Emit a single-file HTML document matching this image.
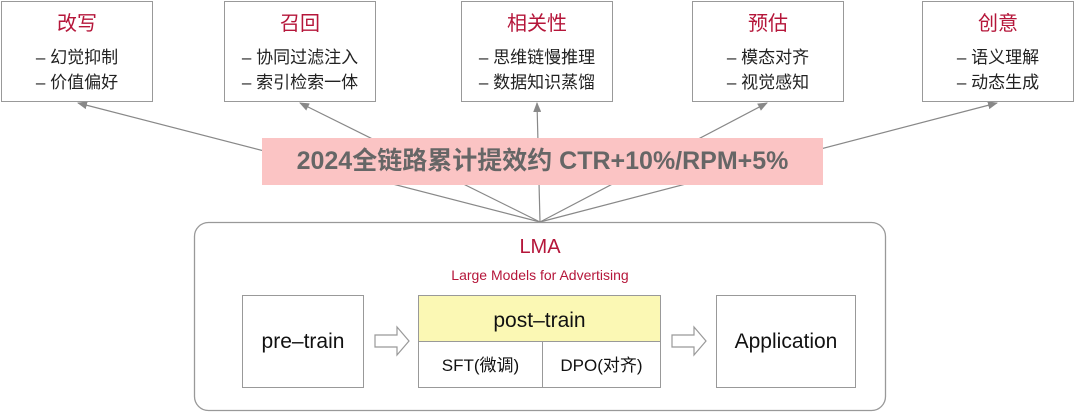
<!DOCTYPE html>
<html><head><meta charset="utf-8"><style>
body{margin:0;width:1080px;height:413px;background:#fff;position:relative;overflow:hidden;font-family:"Liberation Sans","Noto Sans CJK SC",sans-serif}
.b{position:absolute;box-sizing:border-box;border:1.5px solid #999;background:#fff;text-align:center}
.t{color:#b5163a;font-size:20px;margin-top:9px;line-height:26px}
.l{font-size:17px;color:#222;line-height:25px;margin-top:8px}
.abs{position:absolute}
</style></head><body>
<svg class="abs" style="left:0;top:0" width="1080" height="413">
<defs><marker id="a" markerWidth="10" markerHeight="8" refX="9" refY="4" orient="auto" markerUnits="userSpaceOnUse"><path d="M0,0L10,4L0,8z" fill="#888"/></marker></defs>
<g stroke="#888" stroke-width="1.2" marker-end="url(#a)">
<line x1="540" y1="222" x2="78" y2="103"/>
<line x1="540" y1="222" x2="300" y2="103"/>
<line x1="540" y1="222" x2="537" y2="103"/>
<line x1="540" y1="222" x2="767" y2="103"/>
<line x1="540" y1="222" x2="997" y2="103"/>
</g>
<rect x="194.5" y="222.5" width="691" height="188" rx="14" fill="#fff" stroke="#999" stroke-width="1.3"/>
<path d="M375,335h22v-8l12,14l-12,14v-8h-22z" fill="#fff" stroke="#999" stroke-width="1.2"/>
<path d="M672,335h22v-8l12,14l-12,14v-8h-22z" fill="#fff" stroke="#999" stroke-width="1.2"/>
</svg>
<div class="b" style="left:1px;top:1px;width:152px;height:101px"><div class="t">改写</div><div class="l">– 幻觉抑制<br>– 价值偏好</div></div>
<div class="b" style="left:224px;top:1px;width:152px;height:101px"><div class="t">召回</div><div class="l">– 协同过滤注入<br>– 索引检索一体</div></div>
<div class="b" style="left:461px;top:1px;width:152px;height:101px"><div class="t">相关性</div><div class="l">– 思维链慢推理<br>– 数据知识蒸馏</div></div>
<div class="b" style="left:692px;top:1px;width:152px;height:101px"><div class="t">预估</div><div class="l">– 模态对齐<br>– 视觉感知</div></div>
<div class="b" style="left:922px;top:1px;width:152px;height:101px"><div class="t">创意</div><div class="l">– 语义理解<br>– 动态生成</div></div>
<div class="abs" style="left:262px;top:138px;width:561px;height:47px;background:#fbc4c4;color:#666;font-weight:bold;font-size:25px;line-height:47px;text-align:center;white-space:nowrap">2024全链路累计提效约 CTR+10%/RPM+5%</div>
<div class="abs" style="left:194px;width:692px;top:236px;text-align:center;color:#b5163a;font-size:20px">LMA</div>
<div class="abs" style="left:194px;width:692px;top:267px;text-align:center;color:#b5163a;font-size:14px">Large Models for Advertising</div>
<div class="b" style="left:242px;top:295px;width:122px;height:93px;font-size:21px;line-height:92px;color:#111">pre–train</div>
<div class="b" style="left:418px;top:295px;width:243px;height:93px">
<div style="background:#fbf8b4;height:45px;line-height:49px;font-size:21px;color:#111;border-bottom:1.5px solid #999">post–train</div>
<div style="display:flex;height:45px;line-height:48px;font-size:17px;color:#111"><div style="width:123px;border-right:1.5px solid #999">SFT(微调)</div><div style="flex:1">DPO(对齐)</div></div>
</div>
<div class="b" style="left:716px;top:295px;width:140px;height:93px;font-size:21px;line-height:92px;color:#111">Application</div>
</body></html>
